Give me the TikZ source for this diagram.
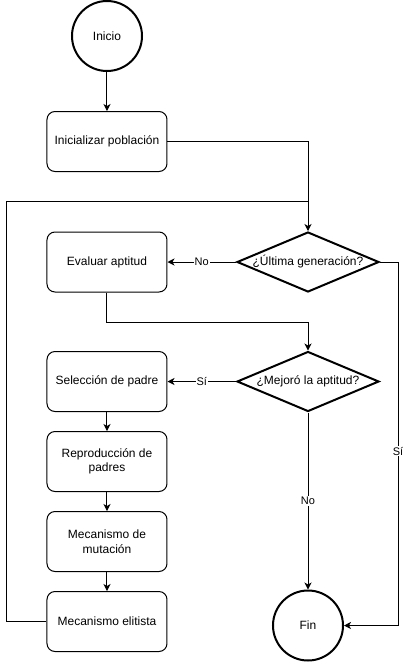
\documentclass[tikz,border=0pt]{standalone}
\usepackage{fontspec}
\setmainfont{Liberation Sans}
\usetikzlibrary{arrows.meta, shapes.geometric}

\begin{document}
\begin{tikzpicture}[
            > = {Stealth[length=7pt, width=7pt, inset=2pt]}, % arrow head style
            node distance = 80pt, % distance between boxes
            line width = 1pt, % line style
            font = \fontsize{12pt}{14.5pt}\selectfont
        ]

        \tikzstyle{terminal}=[
            circle,
            draw = black,
            line width = 2pt,
            minimum size = 70pt,
            inner sep = 0pt
        ]
        \tikzstyle{process}=[
            rectangle,
            rounded corners = 8pt,
            draw = black,
            line width = 1pt,
            minimum width = 120pt,
            minimum height = 60pt,
            align = center
        ]
        \tikzstyle{decision}=[
            diamond,
            draw = black,
            line width = 2pt,
            aspect = 2.37,
            inner sep = 0pt,
            minimum width = 142pt,
            minimum height = 60pt
        ]
        \tikzstyle{answer}=[
            fill = white,
            inner sep = 1pt,
            font = \fontsize{11pt}{13pt}\selectfont
        ]

        \useasboundingbox (-107pt,36pt) rectangle (299pt,-626pt);

        \node[terminal] (inicio) {Inicio};
        \node[process] (init) [below of=inicio, node distance=105.5pt] {Inicializar población};
        \node[process] (eval) [below of=init, node distance=120.5pt] {Evaluar aptitud};
        \node[decision] (dec1) [right of=eval, node distance=201pt] {¿Última generación?};
        \node[process] (sel) [below of=eval, node distance=119.5pt] {Selección de padre};
        \node[process] (rep) [below of=sel] {Reproducción de\\padres};
        \node[process] (mut) [below of=rep] {Mecanismo de\\mutación};
        \node[process] (elit) [below of=mut] {Mecanismo elitista};
        \node[decision] (dec2) [right of=sel, node distance=201pt] {¿Mejoró la aptitud?};
        \node[terminal] (fin) [below of=dec2, node distance=244pt] {Fin};
        \coordinate[above of=dec1, node distance=61pt] (join);

        \draw[->] (inicio) -- (init);
        \draw[->] (init) -| (dec1);
        \draw (elit.west) -- ++(-40pt,0) |- (join);
        \path[->] (dec1) edge node[answer] {No} (eval);
        \draw[->] (eval.south) -- ++(0,-29.5pt) -| (dec2.north);
        \draw[->] (dec1.east) -- ++(18pt,0) |- node[answer, pos=0.26] {Sí} (fin.east);
        \path[->] (dec2) edge node[answer] {Sí} (sel);
        \path[->] (dec2) edge node[answer] {No} (fin);
        \path[->] (sel) edge (rep);
        \path[->] (rep) edge (mut);
        \path[->] (mut) edge (elit);

  \end{tikzpicture}
\end{document}
